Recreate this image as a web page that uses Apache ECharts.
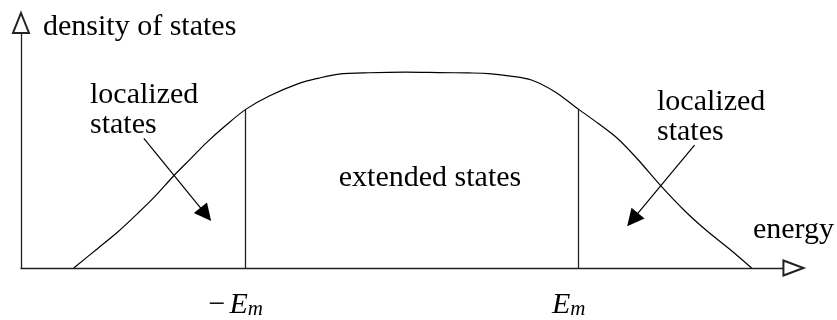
<!DOCTYPE html>
<html>
<head>
<meta charset="utf-8">
<script src="https://cdn.jsdelivr.net/npm/echarts@6/dist/echarts.min.js"></script>
<style>
  html, body { margin: 0; padding: 0; background: #fff; }
  #chart { width: 837px; height: 320px; }
</style>
</head>
<body>
<div id="chart"></div>
<script>
// energy in units of E_m, density normalised to the plateau
const energy = [-2.033, -1.889, -1.769, -1.650, -1.548, -1.428, -1.332, -1.237, -1.117, -1.0, -0.859, -0.680, -0.560, -0.440, -0.260, -0.039,
                0.159, 0.338, 0.458, 0.590, 0.716, 0.859, 1.0, 1.118, 1.237, 1.356, 1.494, 1.638, 1.775, 1.913, 2.039];
const density = [0, 0.100, 0.184, 0.278, 0.363, 0.475, 0.557, 0.639, 0.730, 0.81, 0.878, 0.943, 0.970, 0.990, 0.997, 1.0,
                 0.998, 0.996, 0.993, 0.980, 0.960, 0.899, 0.81, 0.738, 0.659, 0.554, 0.419, 0.291, 0.186, 0.092, 0];

// mobility edges
const edges = [-1, 1];
const tickValues = [-1, 1];
const tickLabels = ['−E_m', 'E_m'];

// pointer arrows (from text to region)
const arrowFrom = [[-1.612, 0.662], [1.696, 0.628]];
const arrowTo = [[-1.240, 0.274], [1.324, 0.247]];

const serif = 'Liberation Serif';

const chart = echarts.init(document.getElementById('chart'), null, { renderer: 'canvas' });

function edgeHeight(x) {
    const i = energy.indexOf(x);
    return density[i];
}

function richLabel(s) {
    const m = s.match(/^(−?)(\w)_(\w)$/);
    if (!m) return s;
    return (m[1] ? '{n|' + m[1] + '}' : '') + '{e|' + m[2] + '}{s|' + m[3] + '}';
}

const textStyle = { fontFamily: serif, fontSize: 30, lineHeight: 30, fill: '#000', align: 'left', verticalAlign: 'top' };

const option = {
    animation: false,
    textStyle: { fontFamily: serif },
    grid: { left: 21, right: 51.5, top: 33, bottom: 52 },
    xAxis: {
        type: 'value',
        min: -2.35,
        max: 2.23,
        name: 'energy',
        nameLocation: 'end',
        nameGap: -30.5,
        nameTextStyle: {
            fontFamily: serif, fontSize: 30, color: '#000',
            align: 'left', verticalAlign: 'bottom', lineHeight: 30,
            padding: [0, 0, 23, 0]
        },
        axisLine: {
            show: true,
            onZero: false,
            symbol: ['none', 'emptyTriangle'],
            symbolSize: [15, 20],
            symbolOffset: [0, 10],
            lineStyle: { color: '#222', width: 1.3 }
        },
        axisTick: { show: false },
        splitLine: { show: false },
        axisLabel: {
            customValues: tickValues,
            margin: 22,
            padding: [0, 20, 0, 0],
            formatter: function (v) {
                const i = tickValues.indexOf(v);
                return i < 0 ? '' : richLabel(tickLabels[i]);
            },
            rich: {
                n: { fontFamily: serif, fontSize: 30, color: '#000', lineHeight: 30, padding: [0, 4, 0, 0] },
                e: { fontFamily: serif, fontSize: 30, fontStyle: 'italic', color: '#000', lineHeight: 30 },
                s: { fontFamily: serif, fontSize: 21, fontStyle: 'italic', color: '#000', lineHeight: 14, verticalAlign: 'bottom' }
            }
        }
    },
    yAxis: {
        type: 'value',
        min: 0,
        max: 1.2,
        name: 'density of states',
        nameLocation: 'end',
        nameGap: 6,
        nameTextStyle: {
            fontFamily: serif, fontSize: 30, color: '#000',
            align: 'left', verticalAlign: 'middle',
            padding: [0, 0, 0, 22]
        },
        axisLine: {
            show: true,
            onZero: false,
            symbol: ['none', 'emptyTriangle'],
            symbolSize: [16, 20],
            symbolOffset: [0, 10],
            lineStyle: { color: '#222', width: 1.3 }
        },
        axisTick: { show: false },
        axisLabel: { show: false },
        splitLine: { show: false }
    },
    graphic: [
        { type: 'text', x: 90, y: 80, silent: true, style: Object.assign({ text: 'localized\nstates' }, textStyle) },
        { type: 'text', x: 657, y: 87, silent: true, style: Object.assign({ text: 'localized\nstates' }, textStyle) },
        { type: 'text', x: 430, y: 163, silent: true, style: Object.assign({}, textStyle, { text: 'extended states', align: 'center' }) }
    ],
    series: [
        {
            name: 'density',
            type: 'line',
            data: energy.map((x, i) => [x, density[i]]),
            smooth: 0.3,
            showSymbol: false,
            lineStyle: { color: '#000', width: 1.2 },
            z: 3
        },
        {
            name: 'edges',
            type: 'lines',
            coordinateSystem: 'cartesian2d',
            symbol: 'none',
            lineStyle: { color: '#222', width: 1.3, opacity: 1 },
            data: edges.map(x => ({ coords: [[x, 0], [x, edgeHeight(x)]] })),
            z: 2
        },
        {
            name: 'pointers',
            type: 'lines',
            coordinateSystem: 'cartesian2d',
            symbol: ['none', 'triangle'],
            symbolSize: [13, 17],
            lineStyle: { color: '#000', width: 1.2, opacity: 1 },
            itemStyle: { color: '#000' },
            data: arrowFrom.map((p, i) => ({ coords: [p, arrowTo[i]] })),
            z: 4
        }
    ]
};

chart.setOption(option);
</script>
</body>
</html>
